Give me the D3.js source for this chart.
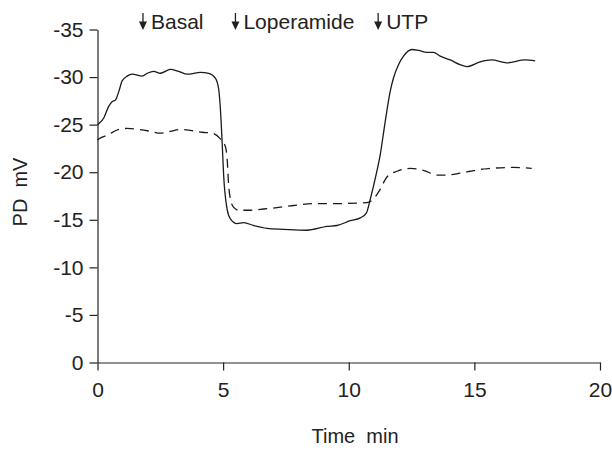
<!DOCTYPE html>
<html>
<head>
<meta charset="utf-8">
<script src="https://cdn.jsdelivr.net/npm/d3@7"></script>
<style>
  body { margin: 0; background: #fff; }
  svg { display: block; }
  text { font-family: "Liberation Sans", Arial, Helvetica, sans-serif; fill: #222; }
</style>
</head>
<body>
<div id="chart"></div>
<script>
// time (min) and potential difference (mV)
const solidTime = [0, 0.05, 0.25, 0.44, 0.58, 0.72, 0.85, 0.98, 1.18, 1.38, 1.78, 1.98, 2.24, 2.5, 2.9, 3.23, 3.57, 4.1, 4.43, 4.69, 4.82, 4.89, 4.96, 5.02, 5.16, 5.29, 5.55, 5.82, 6.21, 6.75, 7.41, 8.34, 9.13, 9.53, 10.06, 10.46, 10.7, 10.86, 11.05, 11.25, 11.45, 11.65, 11.78, 11.98, 12.18, 12.51, 12.78, 13.11, 13.37, 13.64, 14.04, 14.43, 14.7, 15.23, 15.69, 16.29, 17.02, 17.42];
const solidPD = [-25.0, -25.1, -25.7, -26.9, -27.4, -27.6, -28.5, -29.6, -30.1, -30.3, -30.1, -30.4, -30.6, -30.4, -30.8, -30.6, -30.3, -30.5, -30.4, -29.9, -28.8, -26.7, -23.2, -19.7, -16.1, -15.1, -14.6, -14.7, -14.4, -14.1, -14.0, -13.9, -14.3, -14.4, -14.9, -15.2, -15.7, -17.2, -19.3, -21.8, -25.3, -28.5, -29.9, -31.3, -32.2, -32.9, -32.8, -32.6, -32.6, -32.2, -31.8, -31.3, -31.1, -31.6, -31.8, -31.5, -31.8, -31.7];

const dashTime = [0, 0.05, 0.39, 0.85, 1.18, 1.64, 2.11, 2.5, 2.9, 3.3, 3.7, 4.17, 4.56, 4.89, 5.09, 5.16, 5.22, 5.29, 5.42, 5.62, 6.08, 6.48, 6.88, 7.81, 8.6, 9.4, 10.72, 11.05, 11.25, 11.52, 11.92, 12.45, 12.97, 13.51, 13.9, 14.43, 14.83, 15.23, 15.63, 16.55, 17.28];
const dashPD = [-23.4, -23.5, -23.9, -24.5, -24.6, -24.5, -24.3, -24.1, -24.3, -24.5, -24.4, -24.2, -24.1, -23.5, -22.7, -21.4, -18.6, -17.2, -16.3, -16.0, -16.0, -16.1, -16.2, -16.5, -16.7, -16.7, -16.8, -17.4, -18.2, -19.5, -20.1, -20.4, -20.2, -19.7, -19.7, -19.9, -20.1, -20.3, -20.4, -20.5, -20.4];

const xTicks = [0, 5, 10, 15, 20];
const yTicks = [0, -5, -10, -15, -20, -25, -30, -35];

const eventLabels = ["Basal", "Loperamide", "UTP"];
const eventTime = [1.81, 5.49, 11.17];

const width = 612, height = 452;
const plot = { left: 97.5, right: 600, top: 29.5, bottom: 362.5 };

const svg = d3.select("#chart").append("svg")
  .attr("width", width)
  .attr("height", height);

const x = d3.scaleLinear().domain([0, 20]).range([plot.left, plot.right]);
const y = d3.scaleLinear().domain([0, -35]).range([plot.bottom, plot.top]);

// axes
const yAxis = svg.append("g")
  .attr("transform", `translate(${plot.left},0)`)
  .call(d3.axisLeft(y).tickValues(yTicks).tickFormat(d => String(d)).tickSize(8).tickSizeOuter(0).tickPadding(6));

const xAxis = svg.append("g")
  .attr("transform", `translate(0,${plot.bottom})`)
  .call(d3.axisBottom(x).tickValues(xTicks).tickFormat(d => String(d)).tickSize(8).tickSizeOuter(0).tickPadding(12));

[yAxis, xAxis].forEach(g => {
  g.selectAll("path, line").attr("stroke", "#222").attr("stroke-width", 1.2);
  g.selectAll("text").style("font-size", "21px").attr("fill", "#222");
});

// axis titles
svg.append("text")
  .attr("x", 355)
  .attr("y", 443)
  .attr("text-anchor", "middle")
  .style("font-size", "20px")
  .style("white-space", "pre")
  .text("Time  min");

svg.append("text")
  .attr("transform", "translate(27,192) rotate(-90)")
  .attr("text-anchor", "middle")
  .style("font-size", "20px")
  .style("white-space", "pre")
  .text("PD  mV");

// traces
const line = d3.line()
  .x(d => x(d[0]))
  .y(d => y(d[1]))
  .curve(d3.curveMonotoneX);

svg.append("path")
  .datum(d3.zip(solidTime, solidPD))
  .attr("d", line)
  .attr("fill", "none")
  .attr("stroke", "#1a1a1a")
  .attr("stroke-width", 1.3);

svg.append("path")
  .datum(d3.zip(dashTime, dashPD))
  .attr("d", line)
  .attr("fill", "none")
  .attr("stroke", "#1a1a1a")
  .attr("stroke-width", 1.3)
  .attr("stroke-dasharray", "9,6");

// event markers
const ev = svg.selectAll(".event")
  .data(d3.zip(eventTime, eventLabels))
  .enter()
  .append("g")
  .attr("class", "event")
  .attr("transform", d => `translate(${x(d[0])},0)`);

ev.append("line")
  .attr("x1", 0).attr("x2", 0)
  .attr("y1", 13).attr("y2", 24)
  .attr("stroke", "#222")
  .attr("stroke-width", 1.3);

ev.append("path")
  .attr("d", "M-4,21.5 L4,21.5 L0,30 Z")
  .attr("fill", "#222");

ev.append("text")
  .attr("x", 8)
  .attr("y", 29.3)
  .style("font-size", "21px")
  .text(d => d[1]);
</script>
</body>
</html>
